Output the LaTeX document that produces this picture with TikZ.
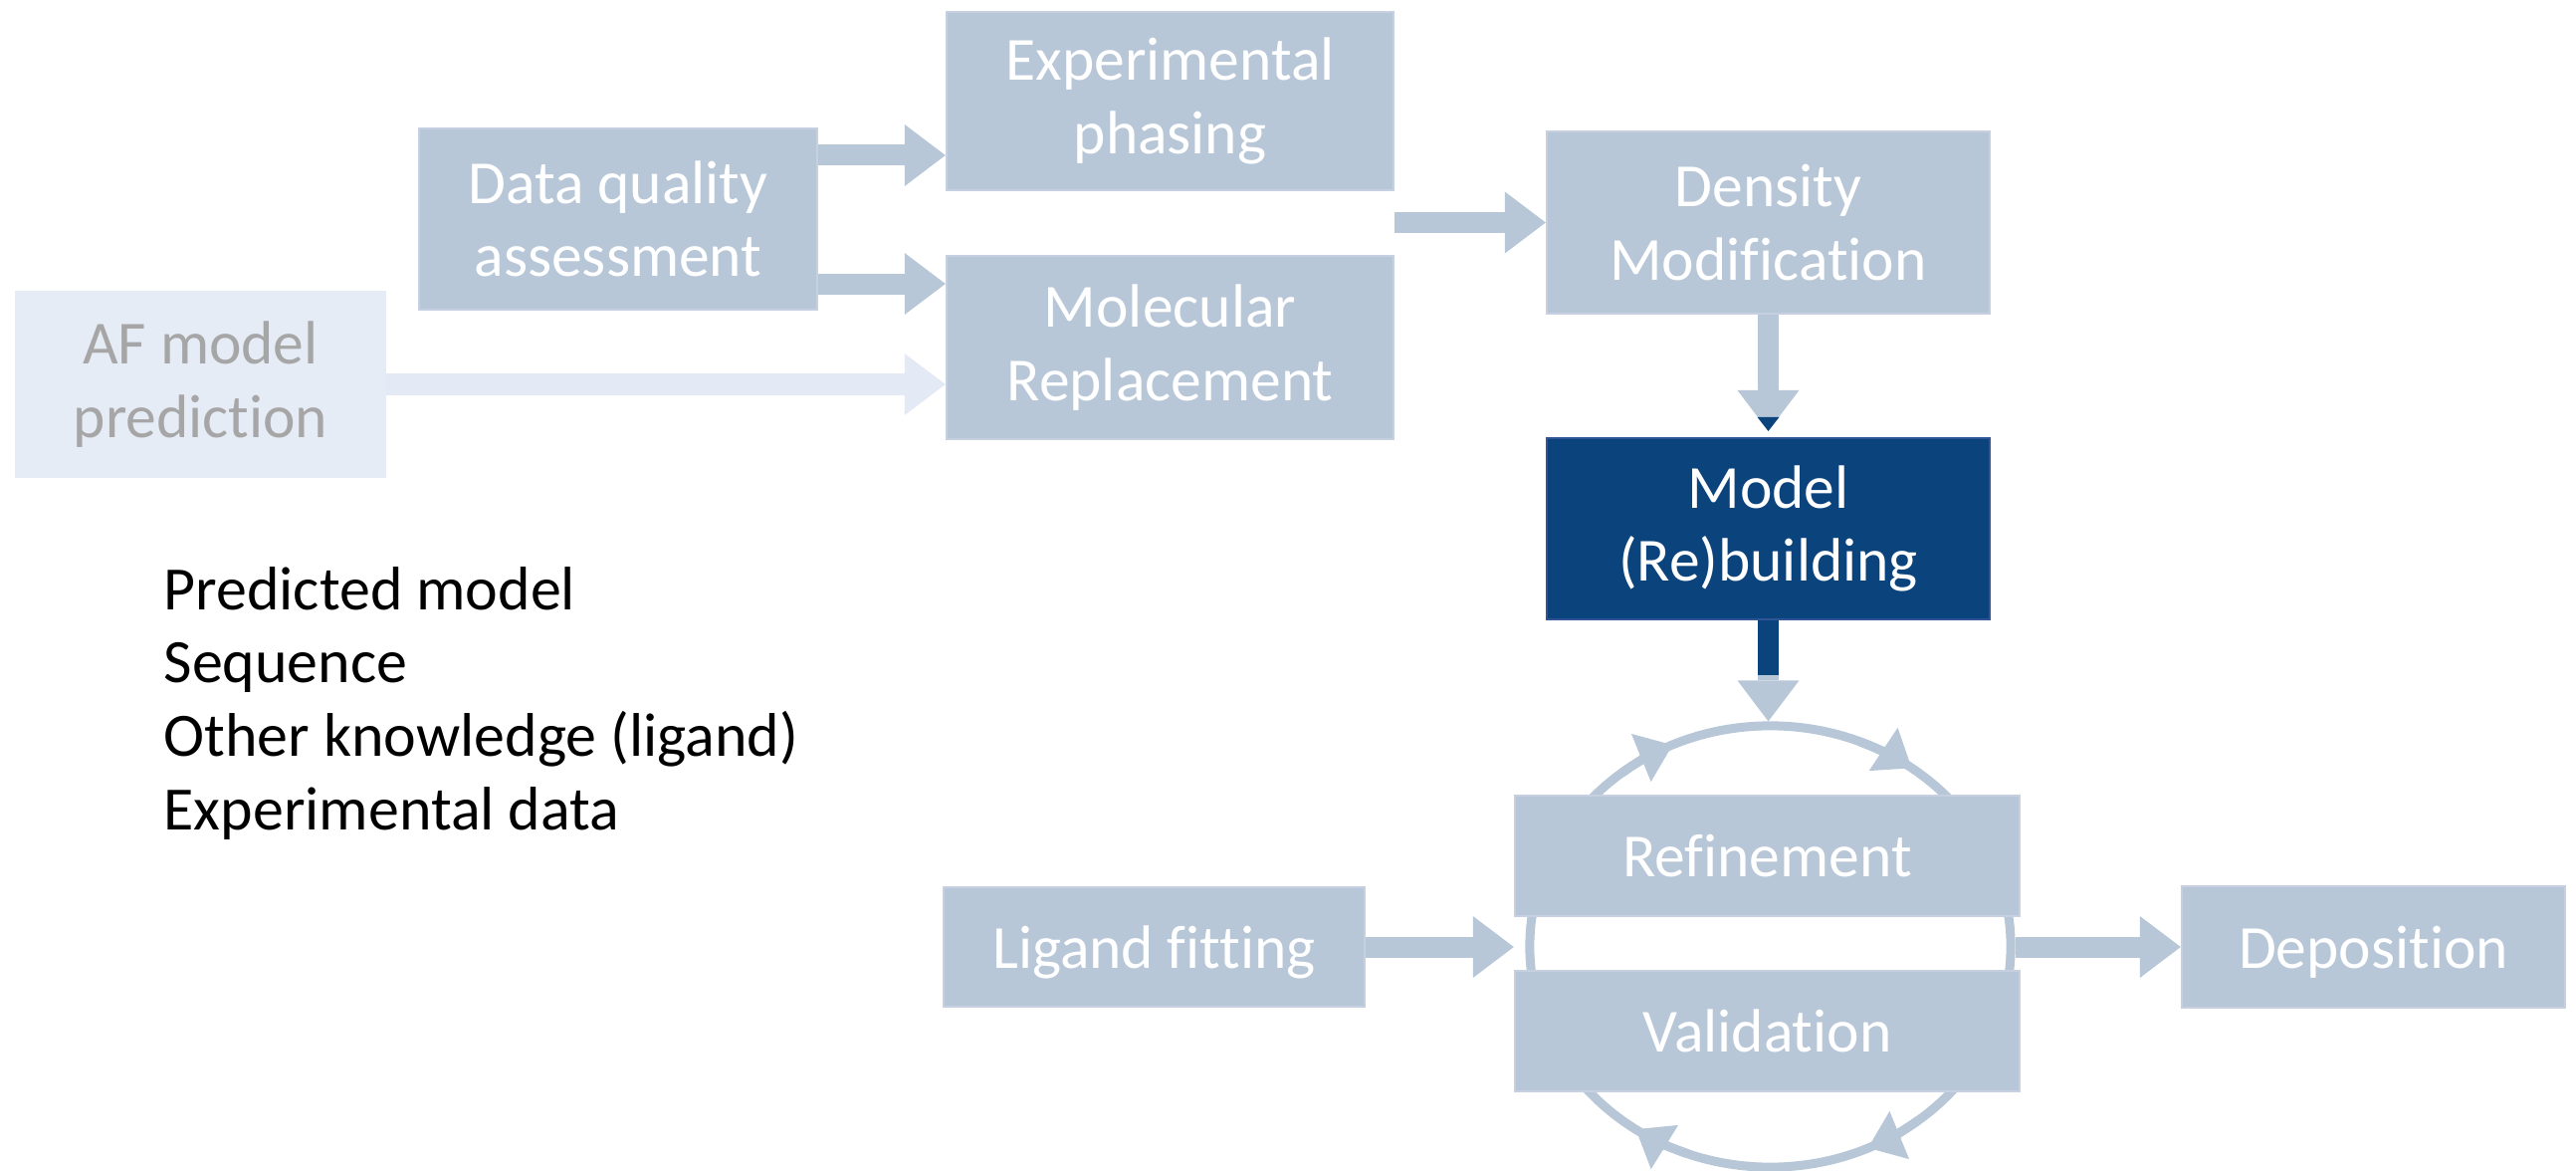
\documentclass[tikz,border=0pt]{standalone}
\usepackage{fontspec}
\setmainfont{Carlito}[Ligatures={NoCommon}]
\usetikzlibrary{arrows.meta,shapes.geometric}

\definecolor{stepfill}{HTML}{B7C7D8}
\definecolor{stepedge}{HTML}{C6D0E1}
\definecolor{corefill}{HTML}{0B437D}
\definecolor{coreedge}{HTML}{2F5597}
\definecolor{palefill}{HTML}{E6ECF6}
\definecolor{paletext}{HTML}{A6A6A6}
\definecolor{palearrow}{HTML}{E3EAF5}

\tikzset{
  wh/.style 2 args={minimum width=#1cm, minimum height=#2cm},
  stage/.style={rectangle, fill=stepfill, draw=stepedge, line width=0.6pt,
    text=white, align=center, inner sep=0pt,
    font=\fontsize{17.5pt}{20.9pt}\selectfont},
  oneline/.style={text height=0.54cm, text depth=0.12cm},
  core/.style={stage, fill=corefill, draw=coreedge},
  pale/.style={stage, fill=palefill, draw=palefill, text=paletext},
  flow/.style={draw=stepfill, line width=0.21cm,
    -{Triangle[length=0.41cm,width=0.62cm,line width=0pt]}},
  turn/.style={draw=stepfill, line width=0.09cm,
    -{Triangle[length=0.34cm,width=0.52cm,line width=0pt]}},
  listline/.style={inner sep=0pt, anchor=base west, text=black,
    font=\fontsize{17.6pt}{21pt}\selectfont},
}

\begin{document}
\begin{tikzpicture}[x=0.01cm, y=-0.01cm]
  \useasboundingbox (0,0) rectangle (2588,1176);
  \fill[white] (0,0) rectangle (2588,1176);

  % refinement / validation cycle, drawn behind its two boxes
  \node[ellipse, draw=stepfill, line width=0.09cm, inner sep=0pt,
        minimum width=4.83cm, minimum height=4.43cm] (cyc) at (1778.5,950.5) {};
  \draw[turn] (cyc.center) ++(232:241.5 and 221.5)
    arc[start angle=232, end angle=246, x radius=241.5, y radius=221.5];
  \draw[turn] (cyc.center) ++(292:241.5 and 221.5)
    arc[start angle=292, end angle=306, x radius=241.5, y radius=221.5];
  \draw[turn] (cyc.center) ++(52:241.5 and 221.5)
    arc[start angle=52, end angle=66, x radius=241.5, y radius=221.5];
  \draw[turn] (cyc.center) ++(110:241.5 and 221.5)
    arc[start angle=110, end angle=124, x radius=241.5, y radius=221.5];

  % stages
  \node[stage, wh={4.49}{1.79}] (EP) at (1175.5,101.5) {Experimental\\phasing};
  \node[stage, wh={4.00}{1.82}] (DQ) at (621,220) {Data quality\\assessment};
  \node[stage, wh={4.49}{1.84}] (MR) at (1175.5,349) {Molecular\\Replacement};
  \node[pale,  wh={3.71}{1.86}] (AF) at (201.5,386) {AF model\\prediction};
  \node[stage, wh={4.45}{1.83}] (DM) at (1776.5,223.5) {Density\\Modification};
  \node[core,  wh={4.45}{1.82}] (MB) at (1776.5,531) {Model\\(Re)building};
  \node[stage, oneline, wh={5.07}{1.21}] (RF) at (1775.5,859.5) {Refinement};
  \node[stage, oneline, wh={5.07}{1.21}] (VA) at (1775.5,1035.5) {Validation};
  \node[stage, oneline, wh={4.23}{1.20}] (LF) at (1159.5,951) {Ligand fitting};
  \node[stage, oneline, wh={3.85}{1.22}] (DP) at (2384.5,951) {Deposition};

  % inputs
  \node[listline] (in1) at (164,612) {Predicted model};
  \node[listline] (in2) at (164,685.5) {Sequence};
  \node[listline] (in3) at (164,759) {Other knowledge (ligand)};
  \node[listline] (in4) at (164,833) {Experimental data};

  % connectors
  \draw[flow] ([yshift=0.64cm]DQ.east) -- ([yshift=0.64cm]DQ.east -| EP.west);
  \draw[flow] ([yshift=-0.65cm]DQ.east) -- ([yshift=-0.65cm]DQ.east -| MR.west);
  \draw[flow, draw=palearrow] (AF.east) -- (AF.east -| MR.west);
  \draw[flow] (EP.east |- DM.west) -- (DM.west);
  \draw[flow, shorten >=0.06cm] (DM.south) -- (MB.north);
  \fill[corefill] ([xshift=-0.11cm,yshift=0.20cm]MB.north)
    -- ([xshift=0.11cm,yshift=0.20cm]MB.north) -- ([yshift=0.06cm]MB.north) -- cycle;
  \draw[flow] (MB.south) -- (MB.south |- cyc.north);
  \fill[corefill] ([xshift=-0.105cm]MB.south) rectangle ([xshift=0.105cm,yshift=-0.55cm]MB.south);
  \draw[flow] (LF.east) -- (LF.east -| RF.west);
  \draw[flow] (cyc.east |- DP.west) -- (DP.west);
\end{tikzpicture}
\end{document}
